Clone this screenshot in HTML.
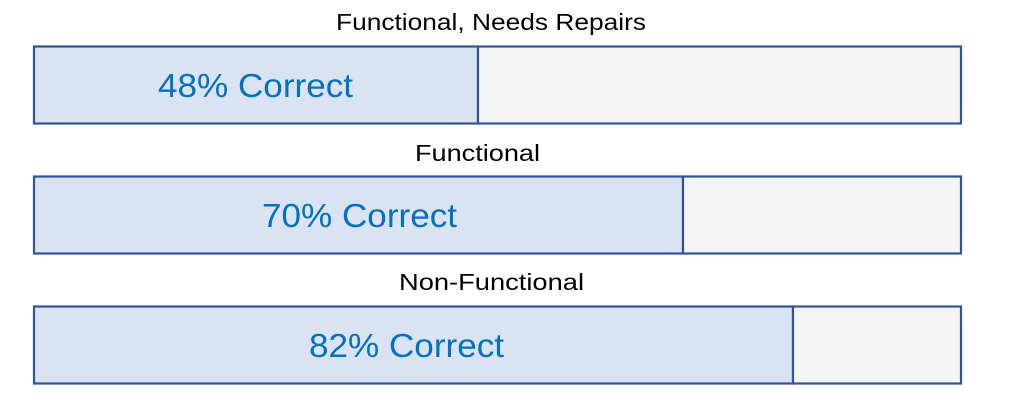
<!DOCTYPE html>
<html><head><style>body{margin:0;background:#fff}svg{display:block}</style></head>
<body>
<svg width="1012" height="409" xmlns="http://www.w3.org/2000/svg" font-family="Liberation Sans, sans-serif">
<g stroke="#2f5597" stroke-width="2.2">
<rect x="34" y="46.5" width="444" height="77" fill="#dae3f3"/>
<rect x="478" y="46.5" width="483" height="77" fill="#f4f4f4"/>
<rect x="34" y="176.5" width="649" height="77" fill="#dae3f3"/>
<rect x="683" y="176.5" width="278" height="77" fill="#f4f4f4"/>
<rect x="34" y="306.5" width="759" height="77" fill="#dae3f3"/>
<rect x="793" y="306.5" width="168" height="77" fill="#f4f4f4"/>
</g>
<g fill="#000" font-size="23">
<text x="336" y="30" textLength="310" lengthAdjust="spacingAndGlyphs">Functional, Needs Repairs</text>
<text x="415" y="161" textLength="125" lengthAdjust="spacingAndGlyphs">Functional</text>
<text x="399" y="290" textLength="185" lengthAdjust="spacingAndGlyphs">Non-Functional</text>
</g>
<g fill="#0070c0" font-size="33">
<text x="158" y="97" textLength="195" lengthAdjust="spacingAndGlyphs">48% Correct</text>
<text x="262" y="227" textLength="195" lengthAdjust="spacingAndGlyphs">70% Correct</text>
<text x="309" y="357" textLength="195" lengthAdjust="spacingAndGlyphs">82% Correct</text>
</g>
</svg>
</body></html>
